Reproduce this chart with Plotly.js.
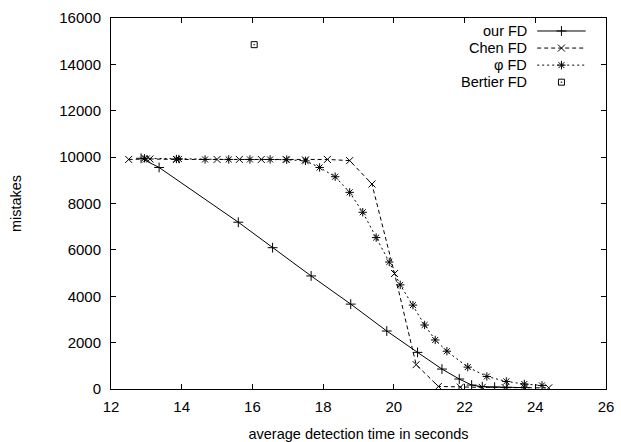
<!DOCTYPE html>
<html>
<head>
<meta charset="utf-8">
<script src="https://cdn.plot.ly/plotly-3.0.1.min.js"></script>
<style>
  html, body { margin: 0; padding: 0; background: #fff; }
  #chart { width: 621px; height: 442px; }
</style>
</head>
<body>
<div id="chart"></div>
<script>
// ---- data ----
const ourX = [12.85, 13.36, 15.60, 16.57, 17.66, 18.78, 19.80, 20.67, 21.36, 21.85, 22.20, 22.50, 22.85, 23.20, 23.70];
const ourY = [9950, 9554, 7193, 6094, 4876, 3661, 2500, 1580, 860, 430, 170, 100, 80, 70, 60];

const chenX = [12.50, 13.00, 13.10, 13.85, 15.00, 15.63, 16.25, 16.95, 17.50, 18.12, 18.75, 19.38, 20.02, 20.63, 21.26, 21.88, 22.50, 23.15, 23.70, 24.38];
const chenY = [9900, 9920, 9920, 9900, 9900, 9900, 9900, 9900, 9880, 9900, 9850, 8840, 4980, 1050, 110, 80, 70, 60, 55, 50];

const phiX = [12.95, 13.85, 13.92, 14.66, 15.33, 15.93, 16.50, 16.97, 17.50, 17.90, 18.34, 18.75, 19.12, 19.50, 19.87, 20.18, 20.54, 20.87, 21.17, 21.50, 22.09, 22.63, 23.18, 23.69, 24.19];
const phiY = [9950, 9920, 9920, 9900, 9900, 9900, 9900, 9890, 9840, 9554, 9155, 8481, 7622, 6530, 5476, 4490, 3618, 2760, 2116, 1630, 944, 541, 326, 215, 155];

const bertierX = [16.05];
const bertierY = [14850];

const seriesNames = ["our FD", "Chen FD", "\u03c6 FD", "Bertier FD"];
const xTickVals = [12, 14, 16, 18, 20, 22, 24, 26];
const yTickVals = [0, 2000, 4000, 6000, 8000, 10000, 12000, 14000, 16000];

// ---- styles ----
const FONT = "Liberation Sans, Arial, sans-serif";
const ink = "#000";
const styles = [
  {dash: "solid", symbol: "cross-thin-open", size: 7, mode: "lines+markers"},
  {dash: "4px,3px", symbol: "x-thin-open", size: 7, mode: "lines+markers"},
  {dash: "2px,3px", symbol: "asterisk-open", size: 7, mode: "lines+markers"},
  {dash: "solid", symbol: "square-open-dot", size: 6, mode: "markers"}
];
const dataSets = [[ourX, ourY], [chenX, chenY], [phiX, phiY], [bertierX, bertierY]];

const traces = dataSets.map((d, i) => ({
  x: d[0], y: d[1], name: seriesNames[i], type: "scatter", mode: styles[i].mode,
  line: {color: ink, width: 1, dash: styles[i].dash},
  marker: {symbol: styles[i].symbol, size: styles[i].size, color: ink,
           line: {color: ink, width: 1}},
  showlegend: false, hoverinfo: "skip"
}));

// ---- gnuplot-style key (text right, sample on the right) ----
const keyRows = [0.965, 0.919, 0.873, 0.827];  // paper y of each key row
const sampleX0 = 0.861, sampleX1 = 0.959, sampleMid = 0.910;
const annotations = seriesNames.map((n, i) => ({
  text: n, xref: "paper", yref: "paper", x: 0.842, y: keyRows[i],
  xanchor: "right", yanchor: "middle", showarrow: false, borderpad: 0,
  font: {family: FONT, size: 14.5, color: ink}
}));
const shapes = [];
for (let i = 0; i < 3; i++) {
  shapes.push({type: "line", xref: "paper", yref: "paper",
    x0: sampleX0, x1: sampleX1, y0: keyRows[i], y1: keyRows[i],
    line: {color: ink, width: 1, dash: styles[i].dash}});
}
// key markers on an overlay axis spanning the plot area
for (let i = 0; i < 4; i++) {
  traces.push({
    x: [sampleMid], y: [keyRows[i]], xaxis: "x2", yaxis: "y2", type: "scatter", mode: "markers",
    marker: {symbol: styles[i].symbol, size: styles[i].size, color: ink, line: {color: ink, width: 1}},
    showlegend: false, hoverinfo: "skip"
  });
}

const axisCommon = {
  showgrid: false, zeroline: false, showline: true, linecolor: ink, linewidth: 1,
  mirror: "ticks", ticks: "inside", ticklen: 5, tickwidth: 1, tickcolor: ink,
  tickfont: {family: FONT, size: 15, color: ink}
};

const layout = {
  width: 621, height: 442,
  margin: {l: 111, r: 15, t: 18, b: 53},
  paper_bgcolor: "#fff", plot_bgcolor: "#fff",
  font: {family: FONT, size: 14, color: ink},
  showlegend: false,
  xaxis: Object.assign({}, axisCommon, {
    range: [12, 26], tickvals: xTickVals, ticktext: xTickVals.map(String),
    ticklabelstandoff: 4,
    title: {text: "average detection time in seconds", font: {family: FONT, size: 14.5, color: ink}, standoff: 14}
  }),
  yaxis: Object.assign({}, axisCommon, {
    range: [0, 16000], tickvals: yTickVals, ticktext: yTickVals.map(String),
    ticklabelstandoff: 6,
    title: {text: "mistakes", font: {family: FONT, size: 14.5, color: ink}, standoff: 34}
  }),
  xaxis2: {overlaying: "x", range: [0, 1], visible: false, fixedrange: true},
  yaxis2: {overlaying: "y", range: [0, 1], visible: false, fixedrange: true},
  annotations: annotations,
  shapes: shapes
};

Plotly.newPlot("chart", traces, layout, {staticPlot: true, displayModeBar: false});
</script>
</body>
</html>
